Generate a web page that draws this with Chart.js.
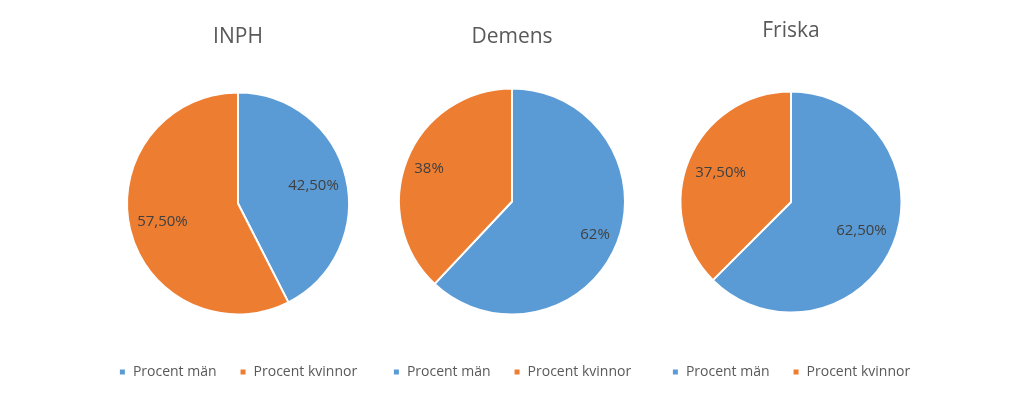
<!DOCTYPE html>
<html>
<head>
<meta charset="utf-8">
<script src="https://cdn.jsdelivr.net/npm/chart.js@4"></script>
<style>
    html, body { margin: 0; padding: 0; background: #fff; }
    body { width: 1024px; height: 401px; position: relative; overflow: hidden; }
    .pie { position: absolute; top: 0; width: 320px; height: 401px; }
</style>
</head>
<body>
<div class="pie" style="left:78px"><canvas id="inphChart"></canvas></div>
<div class="pie" style="left:352px"><canvas id="demensChart"></canvas></div>
<div class="pie" style="left:631px"><canvas id="friskaChart"></canvas></div>
<script>
var categories = ['Procent män', 'Procent kvinnor'];
var inphValues = [42.5, 57.5];
var demensValues = [62, 38];
var friskaValues = [62.5, 37.5];
var titles = ['INPH', 'Demens', 'Friska'];
var decimals = [2, 0, 2];

var colors = ['#5B9BD5', '#ED7D31'];

Chart.defaults.font.family = "'Open Sans', sans-serif";
Chart.defaults.color = '#595959';

// percent labels inside the slices, Swedish decimal comma
var sliceLabels = {
    id: 'sliceLabels',
    afterDatasetsDraw: function (chart, args, opts) {
        var ctx = chart.ctx;
        var meta = chart.getDatasetMeta(0);
        var values = chart.data.datasets[0].data;
        ctx.save();
        ctx.font = "15px 'Open Sans', sans-serif";
        ctx.fillStyle = '#404040';
        ctx.textAlign = 'center';
        ctx.textBaseline = 'middle';
        meta.data.forEach(function (arc, i) {
            var p = arc.getProps(['x', 'y', 'startAngle', 'endAngle', 'outerRadius'], true);
            var mid = (p.startAngle + p.endAngle) / 2;
            var r = p.outerRadius * opts.factor;
            var text = values[i].toFixed(opts.decimals).replace('.', ',') + '%';
            ctx.fillText(text, p.x + Math.cos(mid) * r, p.y + Math.sin(mid) * r);
        });
        ctx.restore();
    }
};

function makePie(id, title, values, dec, radius, titlePad, factor) {
    var ctx = document.getElementById(id).getContext('2d');
    return new Chart(ctx, {
        type: 'pie',
        data: {
            labels: categories,
            datasets: [{
                data: values,
                backgroundColor: colors,
                borderColor: '#ffffff',
                borderWidth: 2
            }]
        },
        options: {
            responsive: true,
            maintainAspectRatio: false,
            animation: false,
            radius: radius,
            layout: { padding: { bottom: 12 } },
            plugins: {
                title: {
                    display: true,
                    text: title,
                    color: '#595959',
                    font: { size: 21, weight: 'normal' },
                    padding: titlePad
                },
                legend: {
                    position: 'bottom',
                    labels: {
                        boxWidth: 7,
                        boxHeight: 7,
                        padding: 23,
                        color: '#595959',
                        font: { size: 14 }
                    }
                },
                tooltip: { enabled: false },
                sliceLabels: { factor: factor, decimals: dec }
            }
        },
        plugins: [sliceLabels]
    });
}

makePie('inphChart', titles[0], inphValues, decimals[0], 111, { top: 24.4, bottom: 15.4 }, 0.70);
makePie('demensChart', titles[1], demensValues, decimals[1], 113, { top: 24.4, bottom: 11.4 }, 0.79);
makePie('friskaChart', titles[2], friskaValues, decimals[2], 110.5, { top: 18.4, bottom: 18.4 }, 0.69);
</script>
</body>
</html>
